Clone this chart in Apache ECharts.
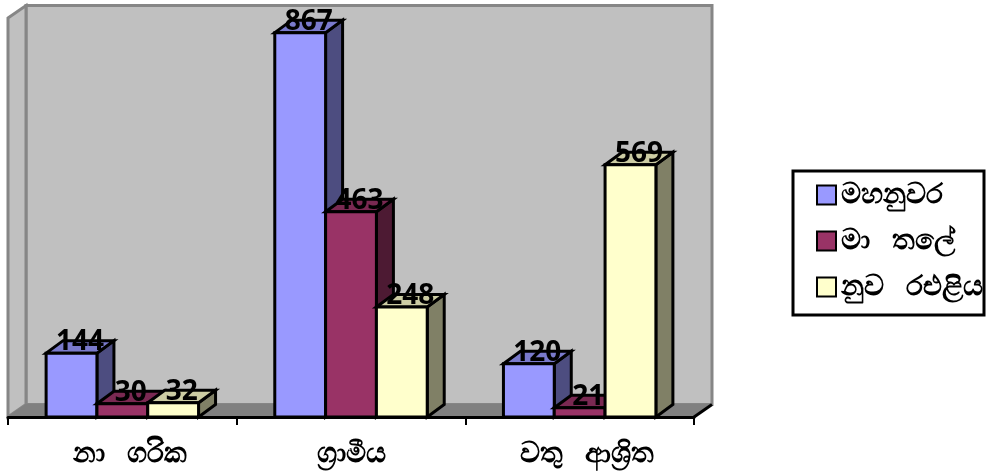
<!DOCTYPE html>
<html><head><meta charset="utf-8">
<style>html,body{margin:0;padding:0;background:#fff}#c{width:986px;height:472px}</style>
<script src="https://cdn.jsdelivr.net/npm/echarts@6/dist/echarts.min.js"></script>
</head><body><div id="c"></div>
<script>
const categories = ['  නා   ගරික', 'ග්‍රාමීය', '  වතු   ආශ්‍රිත'];
const kandy = [144, 867, 120];
const matale = [30, 463, 21];
const nuwaraEliya = [32, 248, 569];
const seriesNames = ['මහනුවර', 'මා   තලේ', 'නුව   රඑළිය'];
const frontColors = ['#9999FF', '#993366', '#FFFFCC'];
const sideColors = ['#4D4D80', '#4D1A33', '#808066'];
const topColors = ['#7A7ACC', '#7A2952', '#CCCCA3'];
const DX = 17, DY = 12.5;
const chart = echarts.init(document.getElementById('c'), null, {renderer: 'canvas'});
const font = '"Noto Sans","DejaVu Sans",sans-serif';

function wallItem(params, api) {
  const c = params.coordSys;
  const l = c.x, r = c.x + c.width, t = c.y, b = c.y + c.height;
  const wx = 18, wy = 12.5;
  const grey = {stroke: '#868686', lineWidth: 3, lineJoin: 'miter'};
  return {type: 'group', children: [
    {type: 'polygon', shape: {points: [[l + wx, t - wy], [r + wx, t - wy], [r + wx, b - wy], [l + wx, b - wy]]}, style: {fill: '#C0C0C0', ...grey}},
    {type: 'polygon', shape: {points: [[l, t], [l + wx, t - wy], [l + wx, b - wy], [l, b]]}, style: {fill: '#C0C0C0', ...grey}},
    {type: 'polygon', shape: {points: [[l, b], [l + wx, b - wy], [r + wx, b - wy], [r, b]]}, style: {fill: '#808080', stroke: '#808080', lineWidth: 1}},
    {type: 'line', shape: {x1: r, y1: b, x2: r + wx, y2: b - wy}, style: {stroke: '#000', lineWidth: 3}}
  ]};
}

function barRenderer(idx) {
  return function (params, api) {
    const cat = api.value(0), val = api.value(1);
    const band = api.size([1, 0])[0];
    const w = band / 4.5;
    const center = api.coord([cat, 0])[0];
    const x0 = center - 1.5 * w + idx * w, x1 = x0 + w;
    const y0 = api.coord([cat, 0])[1], y1 = api.coord([cat, val])[1];
    const st = {stroke: '#000', lineWidth: 3, lineJoin: 'miter'};
    return {type: 'group', children: [
      {type: 'polygon', shape: {points: [[x1, y1], [x1 + DX, y1 - DY], [x1 + DX, y0 - DY], [x1, y0]]}, style: {fill: sideColors[idx], ...st}},
      {type: 'polygon', shape: {points: [[x0, y1], [x0 + DX, y1 - DY], [x1 + DX, y1 - DY], [x1, y1]]}, style: {fill: topColors[idx], ...st}},
      {type: 'rect', shape: {x: x0, y: y1, width: w, height: y0 - y1}, style: {fill: frontColors[idx], ...st}},
      {type: 'text', z2: 100, style: {x: (x0 + x1) / 2 + DX / 2, y: y1 + 3, text: String(val), textAlign: 'center', textVerticalAlign: 'bottom', font: '700 28px "Open Sans",sans-serif', fill: '#000'}}
    ]};
  };
}

const values = [kandy, matale, nuwaraEliya];
chart.setOption({
  animation: false,
  grid: {left: 8, right: 292, top: 18, bottom: 55},
  graphic: [{type: 'rect', z: 0, shape: {x: 793, y: 171, width: 191, height: 144}, style: {fill: '#fff', stroke: '#000', lineWidth: 3}}],
  xAxis: {type: 'category', data: categories, z: 5,
    axisLine: {lineStyle: {color: '#000', width: 3}},
    axisTick: {show: true, alignWithLabel: false, length: 8, lineStyle: {color: '#000', width: 2}},
    axisLabel: {color: '#000', fontSize: 28, fontWeight: 'bold', fontFamily: font, margin: 23}},
  yAxis: {type: 'value', min: 0, max: 900, show: false, splitLine: {show: false}},
  legend: {data: seriesNames, orient: 'vertical', left: 816, top: 181, itemWidth: 19, itemHeight: 19, itemGap: 18, padding: 0, icon: 'rect',
    itemStyle: {borderColor: '#000', borderWidth: 2},
    textStyle: {color: '#000', fontSize: 28, fontWeight: 'bold', fontFamily: font, padding: [4, 0, 0, 0]}},
  series: [
    {type: 'custom', name: 'wall', coordinateSystem: 'cartesian2d', renderItem: wallItem, data: [[0, 0]], z: 1, silent: true},
    ...seriesNames.map((n, i) => ({
      type: 'custom', name: n, coordinateSystem: 'cartesian2d', renderItem: barRenderer(i), z: 2,
      itemStyle: {color: frontColors[i], borderColor: '#000', borderWidth: 2},
      encode: {x: 0, y: 1},
      data: values[i].map((v, k) => [k, v])
    }))
  ]
});
</script></body></html>
